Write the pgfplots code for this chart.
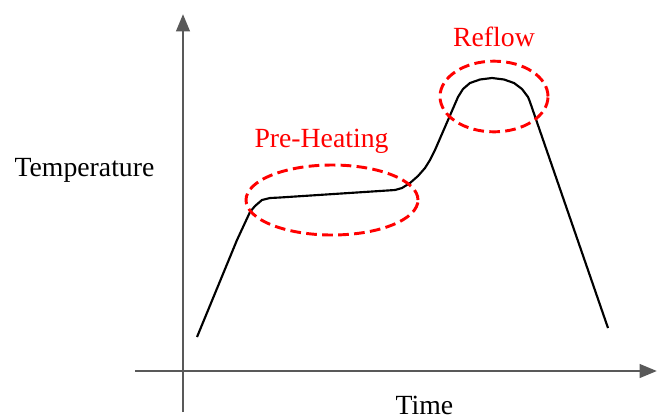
\documentclass[border=0pt]{standalone}
\usepackage{pgfplots}
\pgfplotsset{compat=1.18}
\usepackage{fontspec}
\setmainfont{Liberation Serif}
\usetikzlibrary{arrows.meta}
\definecolor{axgray}{HTML}{595959}
\begin{document}
\begin{tikzpicture}
\begin{axis}[
  hide axis, scale only axis, clip=false,
  width=498pt, height=314.25pt,
  xmin=0, xmax=664, ymin=0, ymax=419, y dir=reverse,
]
\path (axis cs:0,0) rectangle (axis cs:664,419);
% axes
\draw[axgray, line width=2.2pt, -{Triangle[length=13pt,width=10pt]}] (axis cs:183,412) -- (axis cs:183,14);
\draw[axgray, line width=2.2pt, -{Triangle[length=13pt,width=10pt]}] (axis cs:135,371) -- (axis cs:657,371);
% curve
\addplot[black, line width=1.6pt, line join=round] coordinates {
(197,337) (237,240) (250,212) (255,206) (262,200) (270,198) (280,197.5)
(395,190) (402,188) (410,183) (418,176) (425,168) (430,160) (435,150)
(458,97) (463,89) (470,83) (480,79.5) (492,78) (504,79.5) (514,83) (522,89) (528,97)
(530,102) (608,328)
};
% ellipses
\draw[red, line width=2.2pt, dash pattern=on 8pt off 4pt] (axis cs:332,200) ellipse [x radius=64.5pt, y radius=26.25pt];
\draw[red, line width=2.2pt, dash pattern=on 8pt off 4pt] (axis cs:494,96.5) ellipse [x radius=40.5pt, y radius=26.5pt];
% labels
\node[anchor=base, red, font=\fontsize{20.8}{24}\selectfont, inner sep=0pt] at (axis cs:321.5,147) {Pre-Heating};
\node[anchor=base, red, font=\fontsize{20.8}{24}\selectfont, inner sep=0pt] at (axis cs:494,46) {Reflow};
\node[anchor=base, black, font=\fontsize{20.8}{24}\selectfont, inner sep=0pt] at (axis cs:84.5,176) {Temperature};
\node[anchor=base, black, font=\fontsize{20.8}{24}\selectfont, inner sep=0pt] at (axis cs:424.5,414) {Time};
\end{axis}
\end{tikzpicture}
\end{document}
